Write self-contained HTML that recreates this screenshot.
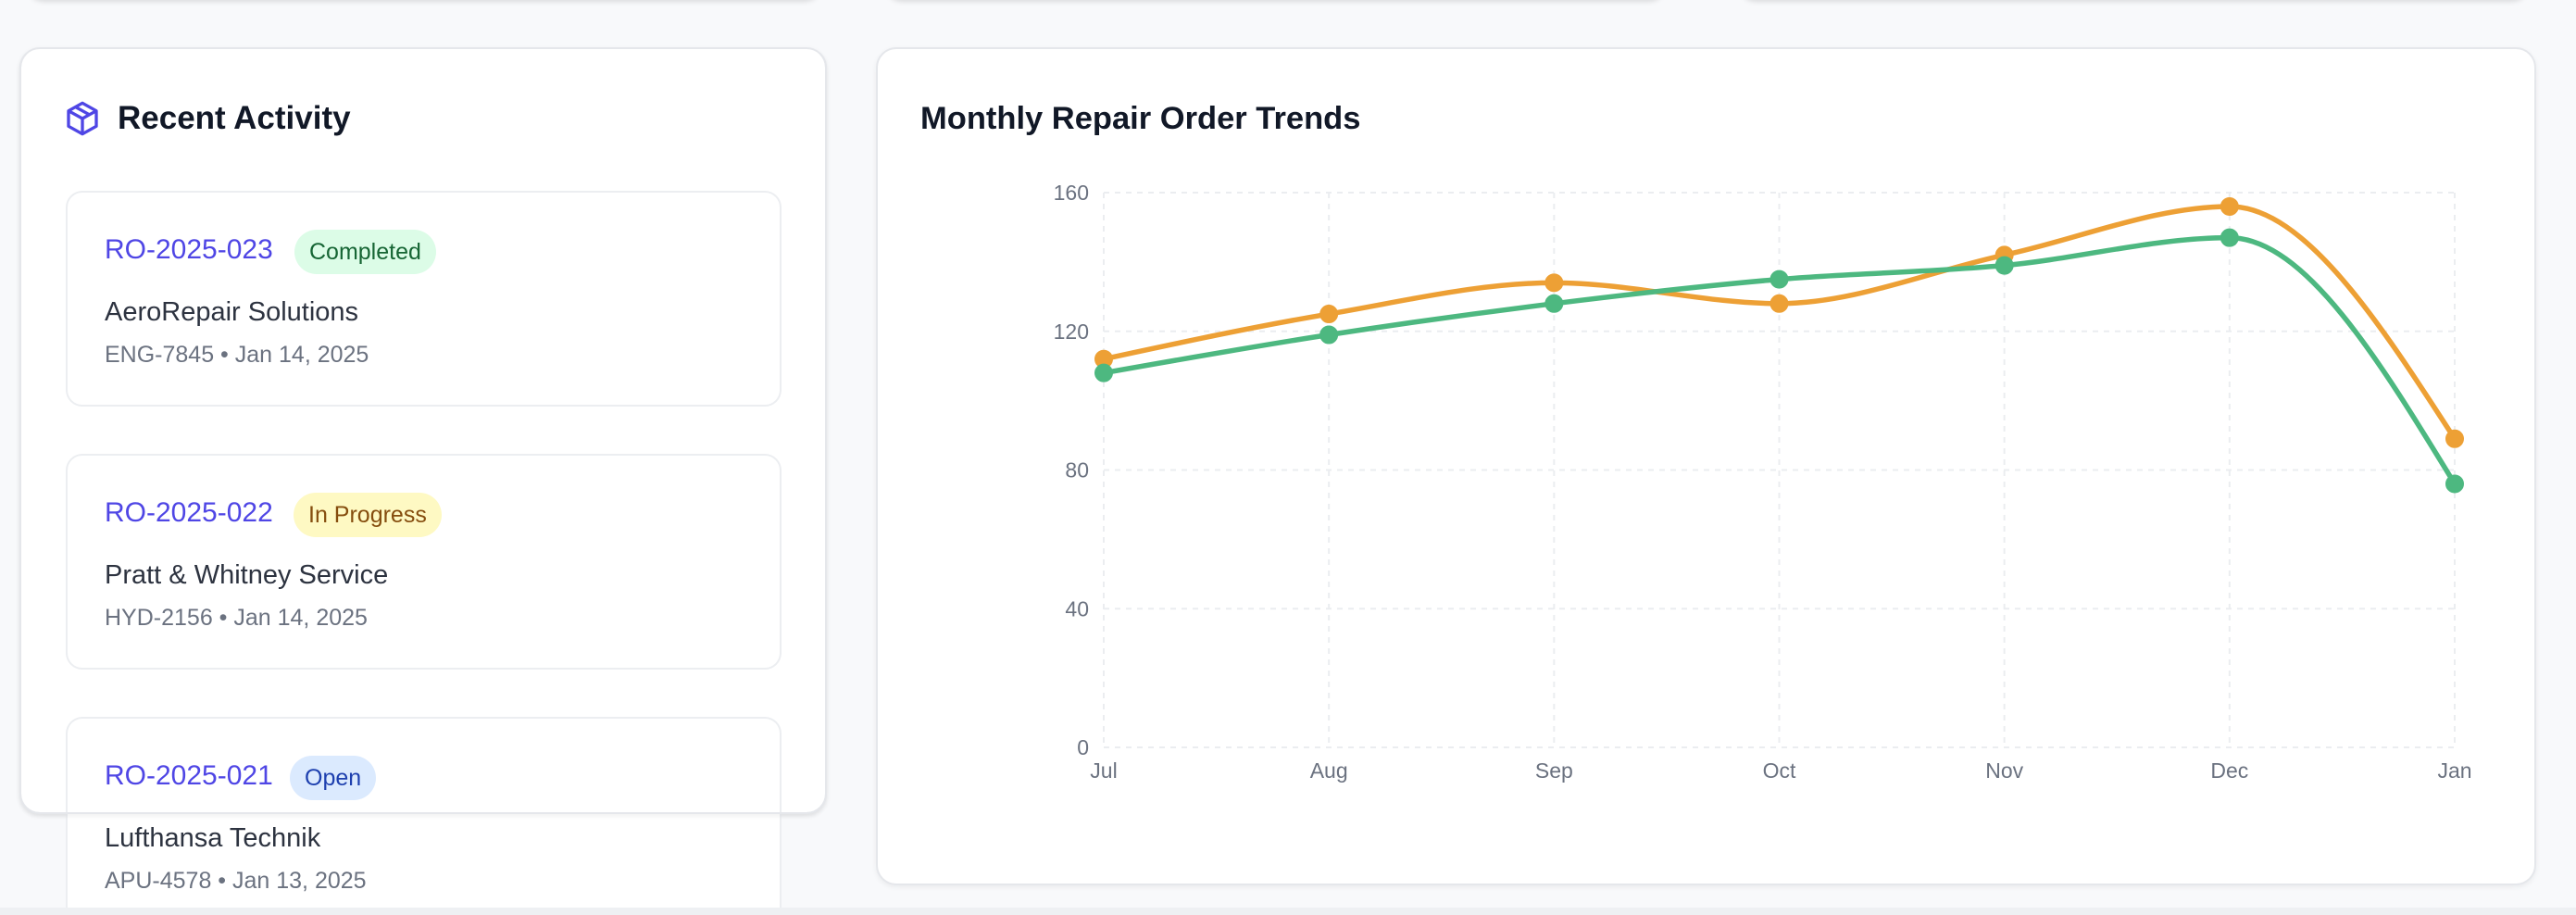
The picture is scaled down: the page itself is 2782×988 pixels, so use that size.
<!DOCTYPE html>
<html><head><meta charset="utf-8"><style>
html,body{margin:0;padding:0;width:2782px;height:988px;overflow:hidden;background:#f8f9fb;font-family:"Liberation Sans",sans-serif;}
#root{position:relative;width:2782px;height:988px;overflow:hidden;}
.top{position:absolute;top:-40px;height:40px;background:#fff;border-radius:20px;box-shadow:0 2px 6px rgba(0,0,0,.12);}
.card{position:absolute;background:#fff;border:2px solid #e5e7eb;border-radius:22px;box-sizing:border-box;}
.item{position:absolute;left:71px;width:773px;background:#fff;border:2px solid #eceef1;border-radius:18px;box-sizing:border-box;}
.ro{position:absolute;left:40px;top:45px;font-size:30px;color:#4f46e5;}
.badge{position:absolute;top:40px;height:48px;line-height:48px;border-radius:24px;font-size:25px;padding:0 16px;}
.co{position:absolute;left:40px;top:113px;font-size:29px;color:#2d3340;}
.meta{position:absolute;left:40px;top:161px;font-size:25px;color:#6b7280;}
</style></head><body>
<div id="root">
<div class="top" style="left:28px;width:860px"></div>
<div class="top" style="left:955px;width:845px"></div>
<div class="top" style="left:1877px;width:855px"></div>

<div class="card" style="left:21px;top:51px;width:872px;height:828px;box-shadow:0 2px 6px rgba(0,0,0,.06)">
</div>
<svg style="position:absolute;left:69px;top:108px" width="40" height="40" viewBox="0 0 24 24" fill="none" stroke="#4f46e5" stroke-width="2" stroke-linejoin="round"><path d="M12 2l9 5v10l-9 5-9-5V7z"/><path d="M3 7l9 5 9-5M12 12v10M7.5 4.5l9 5"/></svg>
<div style="position:absolute;left:127px;top:108px;font-size:35px;font-weight:bold;color:#111827">Recent Activity</div>

<div class="item" style="top:206px;height:233px">
 <div class="ro">RO-2025-023</div>
 <div class="badge" style="left:245px;background:#dcfce7;color:#166534">Completed</div>
 <div class="co">AeroRepair Solutions</div>
 <div class="meta">ENG-7845 • Jan 14, 2025</div>
</div>
<div class="item" style="top:490px;height:233px">
 <div class="ro">RO-2025-022</div>
 <div class="badge" style="left:244px;background:#fef9c3;color:#854d0e">In Progress</div>
 <div class="co">Pratt &amp; Whitney Service</div>
 <div class="meta">HYD-2156 • Jan 14, 2025</div>
</div>
<div class="item" style="top:774px;height:214px;border-bottom:none;border-radius:18px 18px 0 0">
 <div class="ro">RO-2025-021</div>
 <div class="badge" style="left:240px;background:#dbeafe;color:#1e40af">Open</div>
 <div class="co">Lufthansa Technik</div>
 <div class="meta">APU-4578 • Jan 13, 2025</div>
</div>
<div style="position:absolute;left:21px;top:51px;width:872px;height:828px;border:2px solid #e5e7eb;border-top-color:transparent;border-radius:22px;box-sizing:border-box;box-shadow:0 3px 4px rgba(0,0,0,.05)"></div>

<div class="card" style="left:946px;top:51px;width:1793px;height:905px;box-shadow:0 2px 6px rgba(0,0,0,.06)"></div>
<div style="position:absolute;left:994px;top:109px;font-size:34.5px;font-weight:bold;color:#111827">Monthly Repair Order Trends</div>
<svg id="chart" style="position:absolute;left:0;top:0" width="2782" height="988"></svg>
<div style="position:absolute;left:0;top:980px;width:2782px;height:8px;background:#eef0f3"></div>
</div>
<script>
const categories=["Jul","Aug","Sep","Oct","Nov","Dec","Jan"];
const seriesOrange=[112,125,134,128,142,156,89];
const seriesGreen=[108,119,128,135,139,147,76];
const yTicks=[0,40,80,120,160];
const X0=1192,X1=2651,Y0=807,Y1=208,YMAX=160;
const xs=i=>X0+(X1-X0)*i/(categories.length-1);
const ys=v=>Y0-(Y0-Y1)*v/YMAX;
const svg=document.getElementById('chart');const NS='http://www.w3.org/2000/svg';
function mk(t,a){const e=document.createElementNS(NS,t);for(const k in a)e.setAttribute(k,a[k]);svg.appendChild(e);return e;}
yTicks.forEach(t=>{const l=mk('line',{x1:X0,x2:X1,y1:ys(t),y2:ys(t),stroke:'#ebedf0','stroke-width':2,'stroke-dasharray':'6 6'});


const tx=mk('text',{x:1176,y:ys(t)+8,'text-anchor':'end','font-size':23,fill:'#6b7280','font-family':'Liberation Sans'});tx.textContent=t;

});
categories.forEach((c,i)=>{const l=mk('line',{x1:xs(i),x2:xs(i),y1:Y1,y2:Y0,stroke:'#ebedf0','stroke-width':2,'stroke-dasharray':'6 6'});


const tx=mk('text',{x:xs(i),y:840,'text-anchor':'middle','font-size':23,fill:'#6b7280','font-family':'Liberation Sans'});tx.textContent=c;

});
function monotone(pts){const n=pts.length;const d=[],m=[];for(let i=0;i<n-1;i++)d.push((pts[i+1][1]-pts[i][1])/(pts[i+1][0]-pts[i][0]));
for(let i=0;i<n;i++){if(i==0)m.push(d[0]);else if(i==n-1)m.push(d[n-2]);else{if(d[i-1]*d[i]<=0)m.push(0);else{const h0=pts[i][0]-pts[i-1][0],h1=pts[i+1][0]-pts[i][0];const p=(d[i-1]*h1+d[i]*h0)/(h0+h1);
m.push((Math.sign(d[i-1])+Math.sign(d[i]))*Math.min(Math.abs(d[i-1]),Math.abs(d[i]),0.5*Math.abs(p)));}}}
m[0]=(3*d[0]-m[1])/2;m[n-1]=(3*d[n-2]-m[n-2])/2;
let s='M'+pts[0][0]+','+pts[0][1];for(let i=0;i<n-1;i++){const h=(pts[i+1][0]-pts[i][0])/3;
s+=' C'+(pts[i][0]+h)+','+(pts[i][1]+h*m[i])+' '+(pts[i+1][0]-h)+','+(pts[i+1][1]-h*m[i+1])+' '+pts[i+1][0]+','+pts[i+1][1];}return s;}
function series(vals,color,name){const pts=vals.map((v,i)=>[xs(i),ys(v)]);
const p=mk('path',{d:monotone(pts),fill:'none',stroke:color,'stroke-width':5.5});


pts.forEach(q=>{const c=mk('circle',{cx:q[0],cy:q[1],r:9,fill:color,stroke:color,'stroke-width':2});

});}
series(seriesOrange,'#eda035','orange-series');
series(seriesGreen,'#4db880','green-series');
</script>
</body></html>
